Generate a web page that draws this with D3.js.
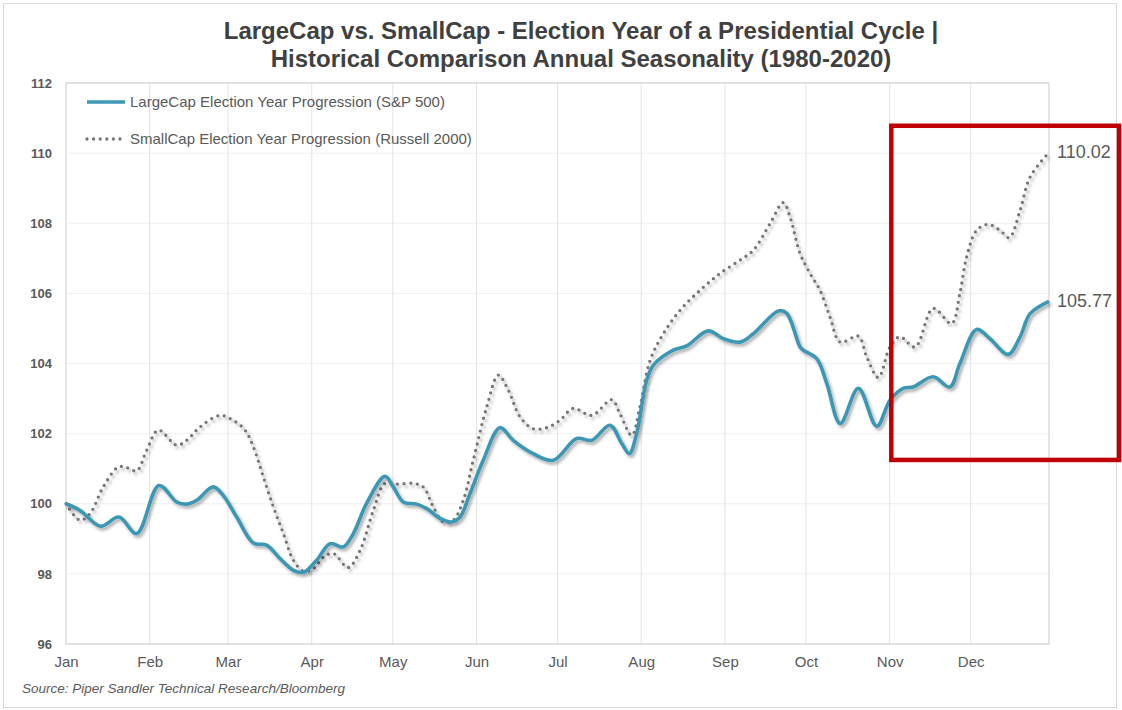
<!DOCTYPE html>
<html>
<head>
<meta charset="utf-8">
<script src="https://cdn.jsdelivr.net/npm/d3@7"></script>
<style>
  html, body { margin: 0; padding: 0; background: #fff; }
  svg { display: block; font-family: "Liberation Sans", Arial, sans-serif; }
</style>
</head>
<body>
<svg id="chart" width="1122" height="710"></svg>
<script>
// Seasonal progression, day of year (2020 calendar, day 0 = Jan 1) and index level (start = 100)
const largeCapDays = [0, 5.2, 12.8, 19.6, 26.2, 34.4, 41.0, 44.7, 48.4, 54.5, 58.2, 63.2, 69.4, 74.3, 79.2, 84.2, 88.1,
  92.8, 97.8, 102.7, 106.4, 111.3, 118.1, 121.2, 124.9, 129.9, 133.6, 138.5, 142.8, 145.9, 149.6, 154.5, 160.7,
  165.6, 173.0, 180.4, 189.1, 194.7, 201.4, 205.8, 208.6, 211.3, 215.0, 217.5, 224.9, 229.8, 237.8, 243.4, 249.6,
  254.5, 263.8, 266.9, 271.8, 273.0, 278.0, 281.7, 286.7, 293.4, 300.2, 305.1, 310.0, 313.7, 321.1, 327.3, 331.0,
  337.2, 342.1, 348.9, 353.3, 357.0, 364];
const largeCapValues = [100.00, 99.81, 99.36, 99.62, 99.15, 100.52, 100.05, 99.99, 100.10, 100.48, 100.24, 99.62, 98.88,
  98.82, 98.44, 98.10, 98.05, 98.39, 98.86, 98.77, 99.15, 100.01, 100.78, 100.48, 100.05, 99.99, 99.86, 99.58, 99.48,
  99.62, 100.29, 101.24, 102.17, 101.81, 101.43, 101.24, 101.86, 101.81, 102.24, 101.72, 101.43, 102.00, 103.52,
  103.95, 104.38, 104.50, 104.93, 104.71, 104.61, 104.85, 105.50, 105.43, 104.47, 104.38, 104.14, 103.43, 102.29,
  103.29, 102.21, 102.95, 103.29, 103.33, 103.62, 103.33, 104.00, 104.97, 104.71, 104.26, 104.76, 105.42, 105.77];

const smallCapDays = [0, 5.2, 8.9, 13.8, 19.4, 22.5, 26.2, 29.9, 34.2, 41.0, 44.7, 49.6, 57.0, 61.9, 66.3, 69.4, 73.1,
  76.8, 80.5, 84.2, 87.9, 91.6, 95.3, 99.0, 104.5, 108.9, 113.8, 118.1, 122.5, 128.6, 132.3, 136.0, 139.7, 143.4,
  147.1, 150.8, 155.8, 160.1, 163.8, 168.1, 173.0, 178.0, 182.9, 187.8, 194.7, 202.1, 205.1, 209.5, 212.5, 216.3,
  221.2, 227.4, 234.8, 242.2, 249.6, 254.5, 260.7, 265.6, 268.1, 271.8, 275.5, 279.2, 282.9, 286.7, 293.4, 296.5,
  300.8, 305.1, 308.8, 314.4, 321.1, 327.9, 331.0, 333.5, 337.2, 341.5, 345.8, 349.3, 353.3, 357.0, 364];
const smallCapValues = [100.00, 99.53, 99.72, 100.48, 101.05, 101.03, 100.94, 101.53, 102.10, 101.67, 101.81, 102.19,
  102.52, 102.38, 102.10, 101.62, 100.76, 99.91, 99.15, 98.39, 98.08, 98.15, 98.48, 98.58, 98.18, 98.67, 99.81,
  100.58, 100.56, 100.58, 100.48, 99.91, 99.48, 99.53, 100.10, 101.24, 102.76, 103.67, 103.24, 102.48, 102.14,
  102.17, 102.38, 102.72, 102.52, 102.97, 102.57, 101.95, 102.76, 104.09, 104.85, 105.52, 106.09, 106.57, 106.95,
  107.23, 107.99, 108.59, 108.18, 107.14, 106.57, 106.09, 105.33, 104.61, 104.78, 104.19, 103.60, 104.47, 104.76,
  104.47, 105.57, 105.14, 106.00, 107.04, 107.80, 107.97, 107.80, 107.59, 108.37, 109.32, 110.02];

const seriesNames = ["LargeCap Election Year Progression (S&P 500)", "SmallCap Election Year Progression (Russell 2000)"];
const yTicks = [96, 98, 100, 102, 104, 106, 108, 110, 112];
const monthLabels = ["Jan", "Feb", "Mar", "Apr", "May", "Jun", "Jul", "Aug", "Sep", "Oct", "Nov", "Dec"];
const titleLines = ["LargeCap vs. SmallCap - Election Year of a Presidential Cycle |",
  "Historical Comparison Annual Seasonality (1980-2020)"];
const sourceText = "Source: Piper Sandler Technical Research/Bloomberg";

const W = 1122, H = 710;
const margin = { left: 66, right: 73, top: 83, bottom: 66 };
const svg = d3.select("#chart");

const start = new Date(2020, 0, 1);
const dayToDate = d => new Date(start.getTime() + d * 86400000);

const x = d3.scaleTime()
  .domain([start, dayToDate(364)])
  .range([margin.left, W - margin.right]);
const y = d3.scaleLinear()
  .domain([96, 112])
  .range([H - margin.bottom, margin.top]);

const textColor = "#595959";

// outer frame
svg.append("rect").attr("x", 3.5).attr("y", 3.5).attr("width", W - 9).attr("height", H - 6)
  .attr("fill", "#fff").attr("stroke", "#d9d9d9").attr("stroke-width", 1);

// drop shadow for the series lines
const defs = svg.append("defs");
defs.append("filter").attr("id", "lineShadow").attr("x", "-5%").attr("y", "-5%").attr("width", "110%").attr("height", "120%")
  .append("feDropShadow").attr("dx", 2).attr("dy", 2.5).attr("stdDeviation", 1.4)
  .attr("flood-color", "#000").attr("flood-opacity", 0.33);

// title
svg.append("g").selectAll("text").data(titleLines).join("text")
  .attr("x", 581).attr("y", (d, i) => 39 + i * 28)
  .attr("text-anchor", "middle")
  .attr("font-size", 24).attr("font-weight", "bold").attr("fill", "#404040")
  .text(d => d);

// gridlines
const monthDates = d3.timeMonth.range(start, dayToDate(364));
svg.append("g").selectAll("line").data(yTicks).join("line")
  .attr("x1", margin.left).attr("x2", W - margin.right)
  .attr("y1", d => y(d)).attr("y2", d => y(d))
  .attr("stroke", "#efefef").attr("stroke-width", 1);
svg.append("g").selectAll("line").data(monthDates.slice(1)).join("line")
  .attr("x1", d => x(d)).attr("x2", d => x(d))
  .attr("y1", margin.top).attr("y2", H - margin.bottom)
  .attr("stroke", "#e3e3e3").attr("stroke-width", 1);

// plot frame
svg.append("rect")
  .attr("x", margin.left).attr("y", margin.top)
  .attr("width", W - margin.right - margin.left).attr("height", H - margin.bottom - margin.top)
  .attr("fill", "none").attr("stroke", "#d4d4d4").attr("stroke-width", 1.2);

// y axis
const yAxis = svg.append("g").attr("transform", `translate(${margin.left},0)`)
  .call(d3.axisLeft(y).tickValues(yTicks).tickSize(0).tickPadding(14));
yAxis.select(".domain").remove();
yAxis.selectAll("text").attr("font-size", 13).attr("font-weight", "bold").attr("fill", textColor)
  .attr("font-family", "Liberation Sans, Arial, sans-serif");

// x axis (month starts)
const xAxis = svg.append("g").attr("transform", `translate(0,${H - margin.bottom})`)
  .call(d3.axisBottom(x).tickValues(monthDates).tickSize(0).tickPadding(12)
    .tickFormat((d, i) => monthLabels[i]));
xAxis.select(".domain").remove();
xAxis.selectAll("text").attr("font-size", 15).attr("fill", textColor)
  .attr("font-family", "Liberation Sans, Arial, sans-serif");

// series
const line = d3.line()
  .x(d => x(dayToDate(d[0])))
  .y(d => y(d[1]))
  .curve(d3.curveCatmullRom.alpha(0.5));

const small = d3.zip(smallCapDays, smallCapValues);
const large = d3.zip(largeCapDays, largeCapValues);

svg.append("path").datum(small).attr("d", line)
  .attr("fill", "none").attr("stroke", "#757575").attr("stroke-width", 3.3)
  .attr("stroke-linecap", "round").attr("stroke-dasharray", "0 6.6")
  .attr("filter", "url(#lineShadow)");

svg.append("path").datum(large).attr("d", line)
  .attr("fill", "none").attr("stroke", "#3b97b3").attr("stroke-width", 3.6)
  .attr("stroke-linejoin", "round")
  .attr("filter", "url(#lineShadow)");

// end-of-year value labels
const endLabels = [
  { v: largeCapValues[largeCapValues.length - 1], d: largeCapDays[largeCapDays.length - 1] },
  { v: smallCapValues[smallCapValues.length - 1], d: smallCapDays[smallCapDays.length - 1] }
];
svg.append("g").selectAll("text").data(endLabels).join("text")
  .attr("x", d => x(dayToDate(d.d)) + 8).attr("y", d => y(d.v) + 6)
  .attr("font-size", 18).attr("fill", textColor)
  .text(d => d.v.toFixed(2));

// legend
const legend = svg.append("g");
const legendRows = [
  { name: seriesNames[0], y: 102, stroke: "#3b97b3", dash: null, w: 3.6 },
  { name: seriesNames[1], y: 139, stroke: "#757575", dash: "0 6.6", w: 3.3 }
];
legendRows.forEach(r => {
  legend.append("line").attr("x1", 87).attr("x2", 125).attr("y1", r.y).attr("y2", r.y)
    .attr("stroke", r.stroke).attr("stroke-width", r.w)
    .attr("stroke-linecap", r.dash ? "round" : "butt")
    .attr("stroke-dasharray", r.dash);
  legend.append("text").attr("x", 130).attr("y", r.y + 5)
    .attr("font-size", 15).attr("fill", textColor).text(r.name);
});

// highlight box around the final two months
svg.append("rect")
  .attr("x", x(dayToDate(305.6))).attr("y", y(110.78))
  .attr("width", W - 3 - x(dayToDate(305.6))).attr("height", y(101.25) - y(110.78))
  .attr("fill", "none").attr("stroke", "#c00000").attr("stroke-width", 4.5);

// source note
svg.append("text").attr("x", 22).attr("y", 693)
  .attr("font-size", 13.5).attr("font-style", "italic").attr("fill", textColor)
  .text(sourceText);
</script>
</body>
</html>
